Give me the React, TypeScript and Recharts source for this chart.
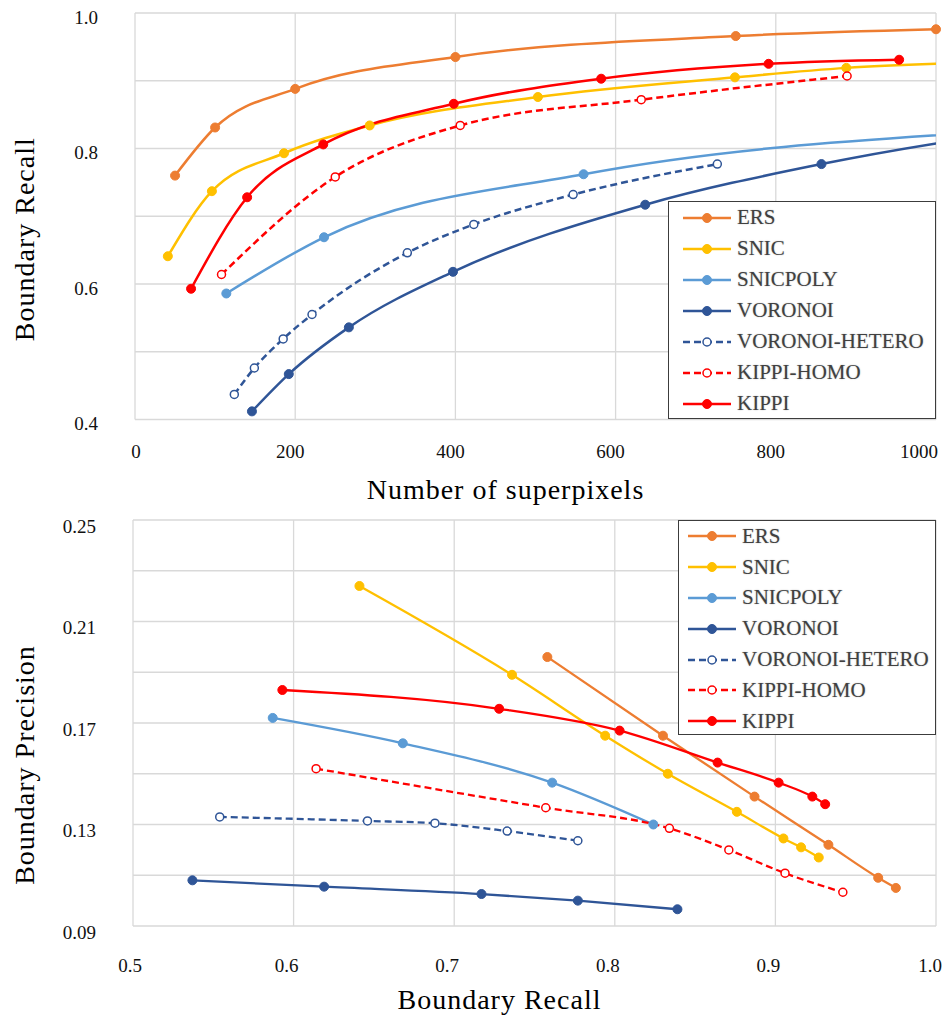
import React from 'react';
import { LineChart, Line, XAxis, YAxis, CartesianGrid, Legend } from 'recharts';

const FONT =
  '"Liberation Serif", "Times New Roman", Times, Tinos, "Nimbus Roman", "Nimbus Roman No9 L", FreeSerif, "DejaVu Serif", "Noto Serif", serif';

const methods = ['ERS', 'SNIC', 'SNICPOLY', 'VORONOI', 'VORONOI-HETERO', 'KIPPI-HOMO', 'KIPPI'];
const colors = ['#ED7D31', '#FFC000', '#5B9BD5', '#2F5597', '#2F5597', '#FF0000', '#FF0000'];
const dashed = [false, false, false, false, true, true, false];

// top panel: number of superpixels -> boundary recall
const ersSp = [50, 100, 200, 400, 750, 1000];
const ersRecall = [0.76, 0.831, 0.888, 0.935, 0.966, 0.976];
const snicSp = [41, 96, 186, 293, 503, 749, 888, 1050];
const snicRecall = [0.641, 0.737, 0.793, 0.834, 0.876, 0.905, 0.919, 0.927];
const snicpolySp = [114, 236, 560, 1060];
const snicpolyRecall = [0.586, 0.669, 0.762, 0.824];
const voronoiSp = [146, 192, 267, 397, 637, 857, 1180];
const voronoiRecall = [0.412, 0.467, 0.536, 0.618, 0.717, 0.777, 0.839];
const voronoiHeteroSp = [124, 149, 185, 221, 340, 423, 547, 727];
const voronoiHeteroRecall = [0.437, 0.476, 0.519, 0.555, 0.646, 0.688, 0.732, 0.777];
const kippiHomoSp = [108, 250, 406, 632, 889];
const kippiHomoRecall = [0.614, 0.758, 0.834, 0.872, 0.907];
const kippiSp = [70, 140, 235, 398, 582, 791, 954];
const kippiRecall = [0.593, 0.728, 0.806, 0.866, 0.903, 0.925, 0.931];

// bottom panel: boundary recall -> boundary precision
const ersPrRecall = [0.758, 0.83, 0.887, 0.933, 0.964, 0.975];
const ersPrecision = [0.196, 0.165, 0.141, 0.122, 0.109, 0.105];
const snicPrRecall = [0.641, 0.736, 0.794, 0.833, 0.876, 0.905, 0.916, 0.927];
const snicPrecision = [0.224, 0.189, 0.165, 0.15, 0.135, 0.1245, 0.121, 0.117];
const snicpolyPrRecall = [0.587, 0.668, 0.761, 0.824];
const snicpolyPrecision = [0.172, 0.162, 0.1465, 0.13];
const voronoiPrRecall = [0.537, 0.619, 0.717, 0.777, 0.839];
const voronoiPrecision = [0.108, 0.1055, 0.1026, 0.1, 0.0966];
const voronoiHeteroPrRecall = [0.554, 0.646, 0.688, 0.733, 0.777];
const voronoiHeteroPrecision = [0.133, 0.1314, 0.1305, 0.1274, 0.1236];
const kippiHomoPrRecall = [0.614, 0.757, 0.834, 0.871, 0.906, 0.942];
const kippiHomoPrecision = [0.152, 0.1366, 0.1285, 0.12, 0.1108, 0.1033];
const kippiPrRecall = [0.593, 0.728, 0.803, 0.864, 0.902, 0.923, 0.931];
const kippiPrecision = [0.183, 0.1756, 0.167, 0.1544, 0.1465, 0.141, 0.138];

// ticks / gridlines
const topXTicks = [0, 200, 400, 600, 800, 1000];
const topYTicks = [0.4, 0.5, 0.6, 0.7, 0.8, 0.9, 1.0];
const topYLabels = ['0.4', '', '0.6', '', '0.8', '', '1.0'];
const botXTicks = [0.5, 0.6, 0.7, 0.8, 0.9, 1.0];
const botXLabels = ['0.5', '0.6', '0.7', '0.8', '0.9', '1.0'];
const botYTicks = [0.09, 0.11, 0.13, 0.15, 0.17, 0.19, 0.21, 0.23, 0.25];
const botYLabels = ['0.09', '', '0.13', '', '0.17', '', '0.21', '', '0.25'];

const zip = (xs: number[], ys: number[]) => xs.map((x, i) => ({ x, y: ys[i] }));

const topSeries = [
  zip(ersSp, ersRecall),
  zip(snicSp, snicRecall),
  zip(snicpolySp, snicpolyRecall),
  zip(voronoiSp, voronoiRecall),
  zip(voronoiHeteroSp, voronoiHeteroRecall),
  zip(kippiHomoSp, kippiHomoRecall),
  zip(kippiSp, kippiRecall),
];

const botSeries = [
  zip(ersPrRecall, ersPrecision),
  zip(snicPrRecall, snicPrecision),
  zip(snicpolyPrRecall, snicpolyPrecision),
  zip(voronoiPrRecall, voronoiPrecision),
  zip(voronoiHeteroPrRecall, voronoiHeteroPrecision),
  zip(kippiHomoPrRecall, kippiHomoPrecision),
  zip(kippiPrRecall, kippiPrecision),
];

const tickStyle = { fontFamily: FONT, fontSize: 19, fill: '#111' };
const titleStyle = { fontFamily: FONT, fontSize: 28, fill: '#000', letterSpacing: 1 };

const makeYTick = (labels: string[], dy: number) => (props: any) => {
  const { x, y, index } = props;
  const text = labels[index];
  if (!text) return <g />;
  return (
    <text x={x} y={y + dy} textAnchor="end" dominantBaseline="central" style={tickStyle}>
      {text}
    </text>
  );
};

const makeXTick = (labels: string[], dx: number, edgeDx: [number, number]) => (props: any) => {
  const { x, y, index } = props;
  const last = labels.length - 1;
  let shift = dx;
  if (index === 0) shift = edgeDx[0];
  if (index === last) shift = edgeDx[1];
  return (
    <text x={x + shift} y={y} textAnchor="middle" dominantBaseline="central" style={tickStyle}>
      {labels[index]}
    </text>
  );
};

const yTitle = (text: string, dy: number) => (props: any) => {
  const vb = props.viewBox;
  const cx = 24;
  const cy = vb.y + vb.height / 2 + dy;
  return (
    <text
      x={cx}
      y={cy}
      transform={`rotate(-90, ${cx}, ${cy})`}
      textAnchor="middle"
      dominantBaseline="central"
      style={titleStyle}
    >
      {text}
    </text>
  );
};

const xTitle = (text: string, dx: number, dy: number) => (props: any) => {
  const vb = props.viewBox;
  return (
    <text
      x={vb.x + vb.width / 2 + dx}
      y={vb.y + dy}
      textAnchor="middle"
      dominantBaseline="central"
      style={titleStyle}
    >
      {text}
    </text>
  );
};

function LegendBox({ padLeft, rowH }: { padLeft: number; rowH: number }) {
  return (
    <div
      style={{
        width: '100%',
        height: '100%',
        boxSizing: 'border-box',
        border: '1.5px solid #3c3c3c',
        background: '#fff',
        paddingLeft: padLeft,
      }}
    >
      {methods.map((m, i) => (
        <div key={m} style={{ height: rowH, display: 'flex', alignItems: 'center' }}>
          <svg width={48} height={14} style={{ marginRight: 6, flex: 'none' }}>
            <line
              x1={0}
              y1={7}
              x2={48}
              y2={7}
              stroke={colors[i]}
              strokeWidth={2.5}
              strokeDasharray={dashed[i] ? '7 4' : undefined}
            />
            <circle
              cx={24}
              cy={7}
              r={dashed[i] ? 4 : 4.5}
              fill={dashed[i] ? '#fff' : colors[i]}
              stroke={colors[i]}
              strokeWidth={dashed[i] ? 1.5 : 1}
            />
          </svg>
          <span
            style={{
              fontFamily: FONT,
              fontSize: 21,
              color: '#404040',
              textShadow: '0 0 1.5px rgba(0,0,0,0.3)',
              whiteSpace: 'nowrap',
              lineHeight: 1,
            }}
          >
            {m}
          </span>
        </div>
      ))}
    </div>
  );
}

const renderLines = (series: { x: number; y: number }[][], width: number) =>
  series.map((data, i) => (
    <Line
      key={methods[i]}
      name={methods[i]}
      data={data}
      dataKey="y"
      type="monotone"
      stroke={colors[i]}
      strokeWidth={width}
      strokeDasharray={dashed[i] ? '7 4' : undefined}
      dot={{
        r: dashed[i] ? 4 : 4.5,
        fill: dashed[i] ? '#fff' : colors[i],
        stroke: colors[i],
        strokeWidth: dashed[i] ? 1.5 : 1,
        strokeDasharray: '',
        clipDot: false,
      }}
      activeDot={false}
      isAnimationActive={false}
    />
  ));

export default function App() {
  return (
    <div style={{ position: 'absolute', left: 0, top: 0, width: 947, height: 1017, background: '#fff' }}>
      <LineChart width={947} height={510} margin={{ top: 13, right: 11, bottom: 0, left: 0 }}>
        <CartesianGrid stroke="#D9D9D9" strokeWidth={1.3} />
        <XAxis
          type="number"
          dataKey="x"
          domain={[0, 1000]}
          ticks={topXTicks}
          interval={0}
          allowDataOverflow
          axisLine={false}
          tickLine={false}
          tickSize={0}
          tickMargin={32}
          height={90.5}
          tick={makeXTick(topXTicks.map(String), -5, [1, -17])}
          label={{ content: xTitle('Number of superpixels', -30, 70) }}
        />
        <YAxis
          type="number"
          domain={[0.4, 1.0]}
          ticks={topYTicks}
          interval={0}
          axisLine={false}
          tickLine={false}
          tickSize={0}
          tickMargin={37}
          width={135}
          tick={makeYTick(topYLabels, 4)}
          label={{ content: yTitle('Boundary Recall', 23) }}
        />
        {renderLines(topSeries, 2.5)}
        <Legend
          layout="vertical"
          align="center"
          verticalAlign="middle"
          wrapperStyle={{ left: 668, top: 201, width: 268, height: 218 }}
          content={() => <LegendBox padLeft={14} rowH={31} />}
        />
      </LineChart>
      <LineChart width={947} height={507} margin={{ top: 10, right: 11, bottom: 0, left: 0 }}>
        <CartesianGrid stroke="#D9D9D9" strokeWidth={1.3} />
        <XAxis
          type="number"
          dataKey="x"
          domain={[0.5, 1.0]}
          ticks={botXTicks}
          interval={0}
          allowDataOverflow
          axisLine={false}
          tickLine={false}
          tickSize={0}
          tickMargin={39}
          height={91}
          tick={makeXTick(botXLabels, -7, [-3, -6])}
          label={{ content: xTitle('Boundary Recall', -35, 73) }}
        />
        <YAxis
          type="number"
          domain={[0.09, 0.25]}
          ticks={botYTicks}
          interval={0}
          axisLine={false}
          tickLine={false}
          tickSize={0}
          tickMargin={37}
          width={133}
          tick={makeYTick(botYLabels, 6)}
          label={{ content: yTitle('Boundary Precision', 42) }}
        />
        {renderLines(botSeries, 2.3)}
        <Legend
          layout="vertical"
          align="center"
          verticalAlign="middle"
          wrapperStyle={{ left: 678, top: 10, width: 258, height: 215 }}
          content={() => <LegendBox padLeft={9} rowH={30.8} />}
        />
      </LineChart>
    </div>
  );
}
